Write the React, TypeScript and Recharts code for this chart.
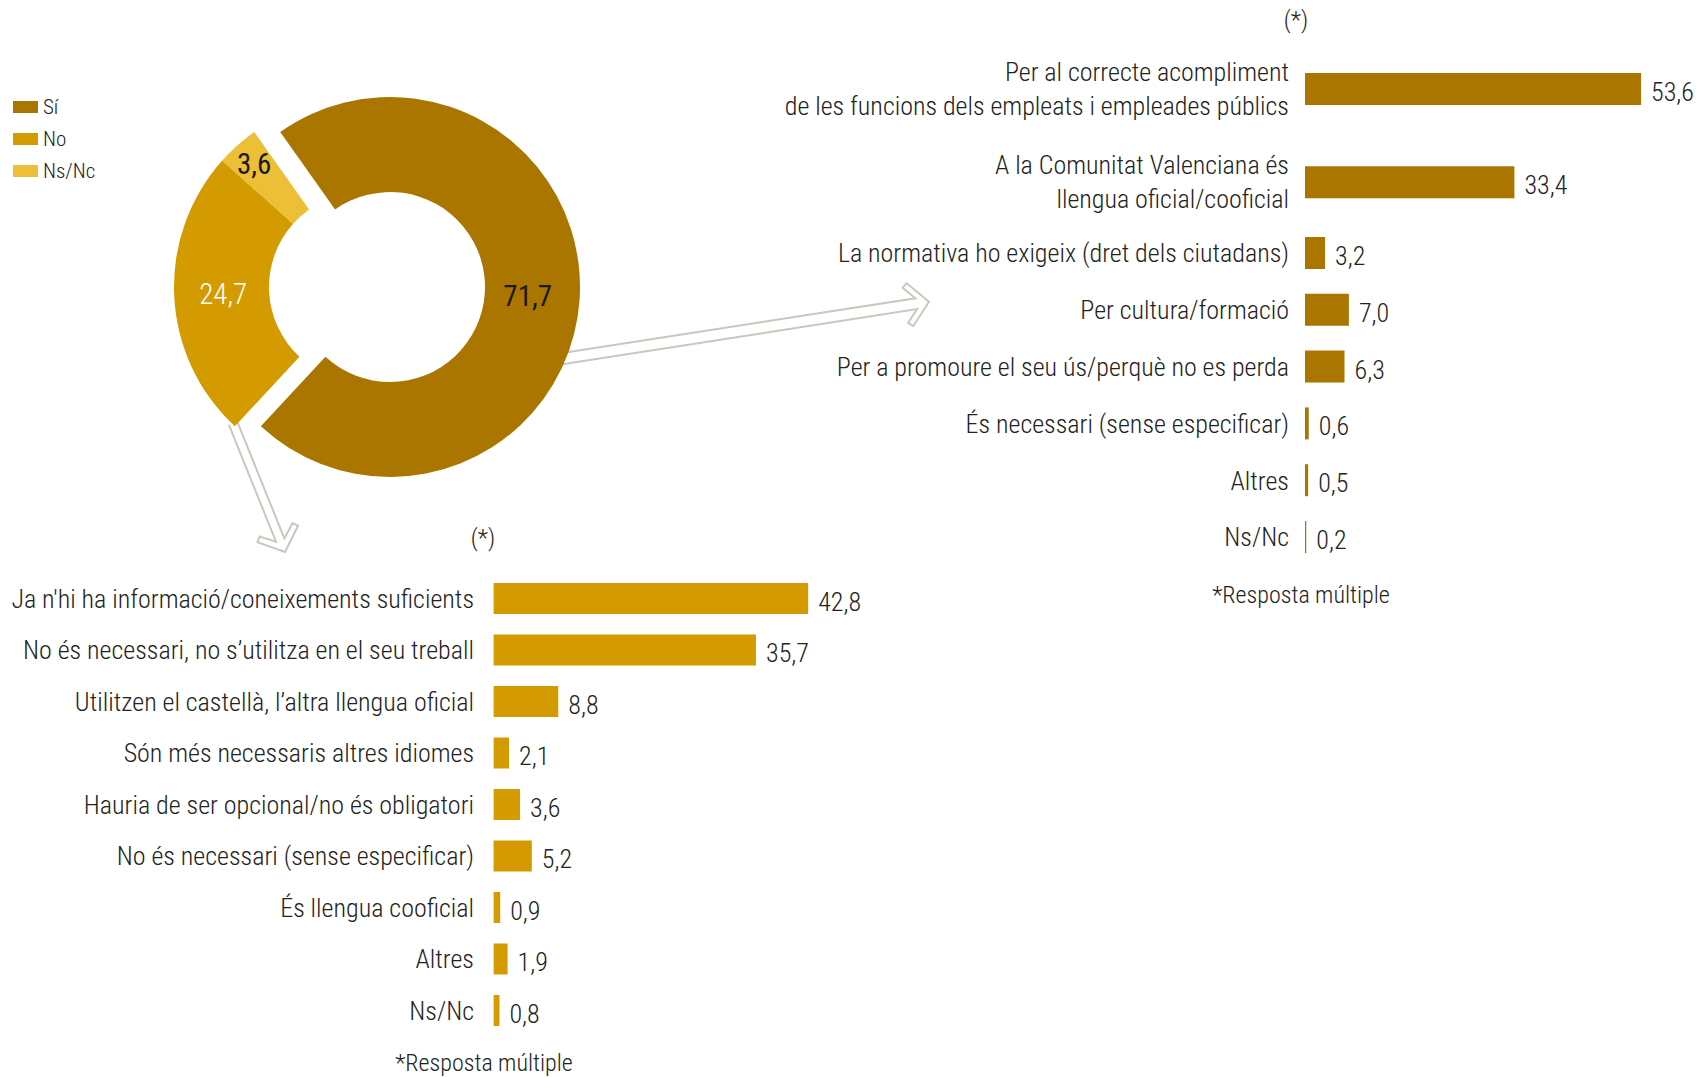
import React from "react";
import { PieChart, Pie, Cell, BarChart, Bar, XAxis, YAxis, LabelList } from "recharts";

// Donut: do they need Valencian for their job?
const answerNames = ["Sí", "No", "Ns/Nc"];
const answerValues = [71.7, 24.7, 3.6];
const answerColors = ["#AA7600", "#D49B00", "#ECBF36"];

// Why yes (multiple answer)
const yesReasons = [
  "Per al correcte acompliment\nde les funcions dels empleats i empleades públics",
  "A la Comunitat Valenciana és\nllengua oficial/cooficial",
  "La normativa ho exigeix (dret dels ciutadans)",
  "Per cultura/formació",
  "Per a promoure el seu ús/perquè no es perda",
  "És necessari (sense especificar)",
  "Altres",
  "Ns/Nc",
];
const yesValues = [53.6, 33.4, 3.2, 7.0, 6.3, 0.6, 0.5, 0.2];

// Why no (multiple answer)
const noReasons = [
  "Ja n'hi ha informació/coneixements suficients",
  "No és necessari, no s’utilitza en el seu treball",
  "Utilitzen el castellà, l’altra llengua oficial",
  "Són més necessaris altres idiomes",
  "Hauria de ser opcional/no és obligatori",
  "No és necessari (sense especificar)",
  "És llengua cooficial",
  "Altres",
  "Ns/Nc",
];
const noValues = [42.8, 35.7, 8.8, 2.1, 3.6, 5.2, 0.9, 1.9, 0.8];

const FONT = '"Roboto Condensed", "Liberation Sans Narrow", "Arial Narrow", "DejaVu Sans Condensed", sans-serif';
const WEIGHT = 300;
const TEXT = "#222";
const ARROW = "#c8c8bf";
const RADIAN = Math.PI / 180;

const pieData = answerNames.map((name, i) => ({ name, value: answerValues[i] }));
const yesData = yesReasons.map((label, i) => ({ label, value: yesValues[i] }));
const noData = noReasons.map((label, i) => ({ label, value: noValues[i] }));

const fmt = (v: number) => v.toFixed(1).replace(".", ",");

// label radius per slice (the small one sits nearer the outer edge)
const labelRadius = [138, 141, 165];
const labelColor = ["#1a1a1a", "#ffffff", "#1a1a1a"];

function pieLabel(show: (i: number) => boolean) {
  return (props: any) => {
    const { cx, cy, midAngle, index, value } = props;
    if (!show(index)) return null;
    const r = labelRadius[index];
    const x = cx + Math.cos(-midAngle * RADIAN) * r;
    const y = cy + Math.sin(-midAngle * RADIAN) * r;
    return (
      <text x={x} y={y} textAnchor="middle" dominantBaseline="central" fill={labelColor[index]} fontSize={29} fontWeight={index === 1 ? WEIGHT : 400} fontFamily={FONT}>
        {fmt(value)}
      </text>
    );
  };
}

const ReasonTick = (props: any) => {
  const { x, y, payload } = props;
  const lines = String(payload.value).split("\n");
  const lh = 34;
  return (
    <text x={x} y={y} textAnchor="end" dominantBaseline="central" fill={TEXT} fontSize={26} fontWeight={WEIGHT} fontFamily={FONT}>
      {lines.map((ln, i) => (
        <tspan key={i} x={x} dy={i === 0 ? -((lines.length - 1) * lh) / 2 : lh}>
          {ln}
        </tspan>
      ))}
    </text>
  );
};

const valueLabel = (props: any) => {
  const { x, y, width, height, value } = props;
  return (
    <text x={x + width + 10} y={y + height / 2 + 3} dominantBaseline="central" fill={TEXT} fontSize={26} fontWeight={WEIGHT} fontFamily={FONT}>
      {fmt(value)}
    </text>
  );
};

// hollow double-line arrow from tail to tip
function arrowPoints(tail: [number, number], tip: [number, number], hw: number) {
  const dx = tip[0] - tail[0];
  const dy = tip[1] - tail[1];
  const L = Math.hypot(dx, dy);
  const ux = dx / L, uy = dy / L;
  const nx = -uy, ny = ux;
  const local: [number, number][] = [
    [-L, -hw], [-12.9, -hw], [-23.9, -17.8], [-19.4, -21.8], [0, 0],
    [-19.4, 21.8], [-23.9, 17.8], [-12.9, hw], [-L, hw],
  ];
  return local.map(([a, p]) => `${tip[0] + ux * a + nx * p},${tip[1] + uy * a + ny * p}`).join(" ");
}

function ReasonChart({ data, color, left, top, axisWidth, gap, domainMax, pxPerUnit, rowStep, barSize, width }: any) {
  const plotH = rowStep * data.length;
  const plotW = domainMax * pxPerUnit;
  return (
    <div style={{ position: "absolute", left, top }}>
      <BarChart
        width={width}
        height={plotH}
        data={data}
        layout="vertical"
        margin={{ top: 0, right: width - axisWidth - plotW, bottom: 0, left: 0 }}
      >
        <XAxis type="number" domain={[0, domainMax]} hide />
        <YAxis
          type="category"
          dataKey="label"
          width={axisWidth}
          axisLine={false}
          tickLine={false}
          tickSize={0}
          tickMargin={gap}
          interval={0}
          tick={<ReasonTick />}
        />
        <Bar dataKey="value" fill={color} barSize={barSize} isAnimationActive={false}>
          <LabelList dataKey="value" content={valueLabel} />
        </Bar>
      </BarChart>
    </div>
  );
}

const noteStyle: React.CSSProperties = {
  position: "absolute",
  fontFamily: FONT,
  fontWeight: WEIGHT,
  fontSize: 24,
  color: TEXT,
  transform: "translate(-50%, -50%)",
  whiteSpace: "nowrap",
};

export default function App() {
  return (
    <div style={{ position: "absolute", left: 0, top: 0, width: 1701, height: 1077, background: "#fff", overflow: "hidden", fontFamily: FONT }}>
      {/* arrows sit under the donut so their tails disappear behind it */}
      <svg width={1701} height={1077} style={{ position: "absolute", left: 0, top: 0 }}>
        <polyline points={arrowPoints([560, 359], [929, 301.7], 5.5)} fill="none" stroke={ARROW} strokeWidth={2} strokeLinejoin="miter" />
        <polyline points={arrowPoints([233, 423], [285, 552], 4.5)} fill="none" stroke={ARROW} strokeWidth={2} strokeLinejoin="miter" />
      </svg>

      <div style={{ position: "absolute", left: 0, top: 0 }}>
        <PieChart width={640} height={520} margin={{ top: 0, right: 0, bottom: 0, left: 0 }}>
          <Pie
            data={pieData}
            dataKey="value"
            cx={390}
            cy={287}
            innerRadius={95}
            outerRadius={190}
            startAngle={125.3}
            endAngle={-234.7}
            stroke="none"
            labelLine={false}
            label={pieLabel((i) => i === 0)}
            isAnimationActive={false}
          >
            {pieData.map((d, i) => (
              <Cell key={d.name} fill={i === 0 ? answerColors[i] : "transparent"} />
            ))}
          </Pie>
          <Pie
            data={pieData}
            dataKey="value"
            cx={364}
            cy={287}
            innerRadius={95}
            outerRadius={190}
            startAngle={125.3}
            endAngle={-234.7}
            stroke="none"
            labelLine={false}
            label={pieLabel((i) => i !== 0)}
            isAnimationActive={false}
          >
            {pieData.map((d, i) => (
              <Cell key={d.name} fill={i === 0 ? "transparent" : answerColors[i]} />
            ))}
          </Pie>
        </PieChart>
      </div>

      {/* legend */}
      {answerNames.map((n, i) => (
        <div key={n} style={{ position: "absolute", left: 13, top: 100 + i * 32, height: 14, display: "flex", alignItems: "center" }}>
          <div style={{ width: 25, height: 12, background: answerColors[i] }} />
          <span style={{ marginLeft: 5, fontSize: 21, fontWeight: WEIGHT, color: TEXT, lineHeight: "14px" }}>{n}</span>
        </div>
      ))}

      {/* why yes: the two-line rows get a taller slot */}
      <div style={{ ...noteStyle, left: 1296, top: 20 }}>(*)</div>
      <ReasonChart data={yesData.slice(0, 2)} color={answerColors[0]} left={660} top={42.4} axisWidth={645} gap={16}
        domainMax={60} pxPerUnit={6.27} rowStep={93.3} barSize={32} width={1041} />
      <ReasonChart data={yesData.slice(2)} color={answerColors[0]} left={660} top={224.6} axisWidth={645} gap={16}
        domainMax={60} pxPerUnit={6.27} rowStep={56.8} barSize={32} width={1041} />
      <div style={{ ...noteStyle, left: 1301, top: 595 }}>*Resposta múltiple</div>

      {/* why no */}
      <div style={{ ...noteStyle, left: 483, top: 538 }}>(*)</div>
      <ReasonChart data={noData} color={answerColors[1]} left={0} top={573.25} axisWidth={493.6} gap={19.6}
        domainMax={50} pxPerUnit={7.35} rowStep={51.5} barSize={31} width={961} />
      <div style={{ ...noteStyle, left: 484, top: 1063 }}>*Resposta múltiple</div>
    </div>
  );
}
